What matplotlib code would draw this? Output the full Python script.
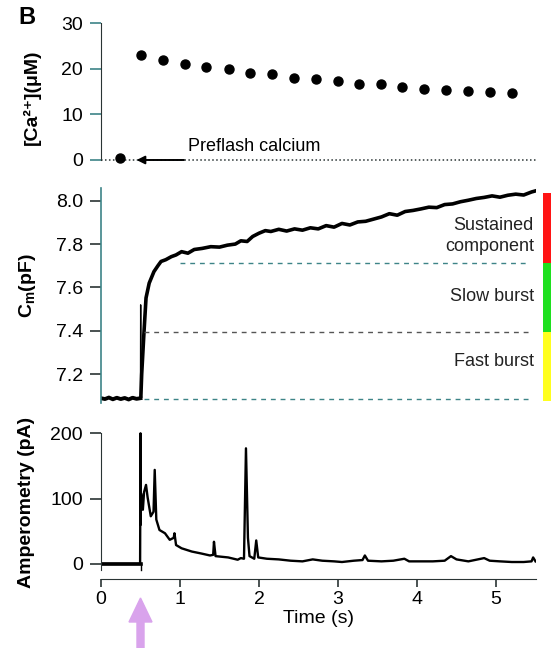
import matplotlib
matplotlib.use("Agg")
import matplotlib.pyplot as plt
from matplotlib.patches import Rectangle, FancyArrow

plt.rcParams['font.family'] = ['Liberation Sans', 'DejaVu Sans']
plt.rcParams['mathtext.fontset'] = 'custom'
plt.rcParams['mathtext.rm'] = 'Liberation Sans'
plt.rcParams['mathtext.bf'] = 'Liberation Sans:bold'

# ---- data ----
# calcium (uM) measured after the flash
ca_pre_t = [0.245]
ca_pre = [0.4]
ca_t = [0.51, 0.78, 1.06, 1.33, 1.62, 1.89, 2.17, 2.44, 2.72, 3.00,
        3.26, 3.54, 3.81, 4.09, 4.37, 4.64, 4.92, 5.20]
ca = [23.1, 21.9, 21.2, 20.4, 20.0, 19.2, 18.8, 18.1, 17.9, 17.4,
      16.8, 16.7, 16.0, 15.6, 15.3, 15.1, 14.9, 14.7]

# membrane capacitance (pF): baseline, flash artefact, then the rise
cm_base_t = [0.00, 0.05, 0.10, 0.15, 0.20, 0.25, 0.30, 0.35, 0.40, 0.45, 0.50]
cm_base = [7.090, 7.086, 7.093, 7.085, 7.092, 7.086, 7.091, 7.084, 7.092, 7.087, 7.090]
cm_spike_t = [0.500, 0.502, 0.505]
cm_spike = [7.090, 7.52, 7.10]
cm_t = [0.505, 0.515, 0.53, 0.545, 0.57, 0.61, 0.67, 0.72, 0.76, 0.82, 0.89,
        0.95, 1.02, 1.10, 1.18, 1.28, 1.39, 1.50, 1.60, 1.70, 1.77, 1.85, 1.92,
        2.00, 2.08, 2.15, 2.25, 2.35, 2.45, 2.55, 2.65, 2.75, 2.85, 2.95,
        3.05, 3.15, 3.25, 3.35, 3.45, 3.55, 3.65, 3.75, 3.85, 3.95, 4.05,
        4.15, 4.25, 4.35, 4.45, 4.55, 4.65, 4.75, 4.85, 4.95, 5.05, 5.15,
        5.25, 5.35, 5.45, 5.50]
cm = [7.10, 7.20, 7.30, 7.40, 7.552, 7.62, 7.673, 7.700, 7.720, 7.728, 7.742,
      7.750, 7.765, 7.758, 7.775, 7.780, 7.788, 7.786, 7.795, 7.800, 7.815, 7.812, 7.835,
      7.850, 7.862, 7.858, 7.868, 7.860, 7.870, 7.864, 7.875, 7.870, 7.885, 7.878,
      7.895, 7.888, 7.902, 7.905, 7.915, 7.925, 7.940, 7.933, 7.950, 7.955, 7.962,
      7.970, 7.968, 7.982, 7.985, 7.995, 8.002, 8.010, 8.015, 8.022, 8.016, 8.025,
      8.030, 8.026, 8.040, 8.045]

# amperometric current (pA)
amp_t = [0.00, 0.495, 0.500, 0.502, 0.507, 0.53, 0.545, 0.57, 0.59, 0.63,
         0.665, 0.68, 0.70, 0.74, 0.81, 0.87, 0.92, 0.93, 0.95, 1.02, 1.15,
         1.27, 1.38, 1.42, 1.43, 1.45, 1.61, 1.73, 1.77, 1.81, 1.835, 1.86,
         1.88, 1.94, 1.965, 1.99, 2.10, 2.25, 2.40, 2.55, 2.68, 2.80, 2.95,
         3.05, 3.20, 3.31, 3.34, 3.38, 3.55, 3.70, 3.84, 3.90, 4.05, 4.20,
         4.35, 4.43, 4.50, 4.65, 4.85, 4.92, 5.05, 5.20, 5.35, 5.45, 5.47, 5.50]
amp = [0, 0, 200, 60, 108, 83, 110, 121, 102, 73,
       80, 144, 68, 52, 47, 37, 40, 47, 29, 24, 19,
       16, 13, 14, 34, 12, 10, 6.5, 9, 8, 177, 40,
       12, 8, 36, 10, 8, 7, 5, 4, 7, 5, 4,
       3, 5, 6, 13, 5, 4, 5, 8, 4, 4, 4,
       5, 12, 7, 4, 9, 5, 4, 3, 3, 4, 10, 4]

cm_levels = [7.087, 7.396, 7.715]
cm_level_start = [0.54, 0.54, 1.0]
phase_lines = ['Fast burst', 'Slow burst', 'Sustained', 'component']
phase_label_y = [7.258, 7.558, 7.885, 7.788]
phase_colors = ['#ffff1e', '#1ee01e', '#ff1414']
phase_bounds = [7.075, 7.396, 7.715, 8.035]

teal = '#3d8487'
dark = '#2a3434'

fig = plt.figure(figsize=(5.51, 6.48), dpi=100)
W, H = 551.0, 648.0

def rect(x0, y_top, y_bot, x1=535.5):
    return [x0 / W, 1 - y_bot / H, (x1 - x0) / W, (y_bot - y_top) / H]

ax1 = fig.add_axes(rect(101, 18.9, 169.1))
ax2 = fig.add_axes(rect(101, 183.3, 404.7))
ax3 = fig.add_axes(rect(101, 423.5, 579))

for ax in (ax1, ax2, ax3):
    ax.set_xlim(0, 5.5)
    ax.patch.set_alpha(0)
    for s in ('top', 'right'):
        ax.spines[s].set_visible(False)

# ---- top: calcium ----
ax1.set_ylim(-2, 31)
ax1.plot([0, 5.5], [0, 0], color=dark, lw=1.1, ls=(0, (1, 1.6)))
ax1.plot(ca_pre_t, ca_pre, 'o', color='black', ms=6.5)
ax1.plot(ca_t, ca, 'o', color='black', ms=6.5)
ax1.annotate('', xy=(0.45, 0), xytext=(1.05, 0),
             arrowprops=dict(arrowstyle='-|>', color='black', lw=1.4,
                             mutation_scale=12, shrinkA=0, shrinkB=0))
ax1.text(1.10, 3.0, 'Preflash calcium', fontsize=13, va='center', ha='left')
ax1.spines['bottom'].set_visible(False)
ax1.spines['left'].set_bounds(0, 30)
ax1.spines['left'].set_color(dark)
ax1.set_xticks([])
ax1.set_yticks([0, 10, 20, 30])
ax1.tick_params(axis='y', length=8, width=1.2, color=teal, labelsize=14, pad=5)

# ---- middle: capacitance ----
ax2.set_ylim(7.06, 8.08)
ax2.plot(cm_base_t, cm_base, color='black', lw=2.8)
ax2.plot(cm_spike_t, cm_spike, color='black', lw=1.0)
ax2.plot(cm_t, cm, color='black', lw=2.6)
for lev, st in zip(cm_levels, cm_level_start):
    ax2.plot([st, 5.43], [lev, lev], color=teal if lev != 7.396 else '#555555',
             lw=1.0, ls=(0, (3.5, 3.5)))
for i in range(3):
    lo, hi = phase_bounds[i], phase_bounds[i + 1]
    ax2.add_patch(Rectangle((5.59, lo), 0.3, hi - lo, color=phase_colors[i],
                            clip_on=False, lw=0))
for name, yy in zip(phase_lines, phase_label_y):
    ax2.text(5.48, yy, name, ha='right', va='center', fontsize=13,
             color='#222222')
ax2.spines['bottom'].set_visible(False)
ax2.spines['left'].set_bounds(7.07, 8.06)
ax2.spines['left'].set_color(teal)
ax2.spines['left'].set_linewidth(1.2)
ax2.set_xticks([])
ax2.set_yticks([7.2, 7.4, 7.6, 7.8, 8.0])
ax2.set_yticklabels(['7.2', '7.4', '7.6', '7.8', '8.0'])
ax2.tick_params(axis='y', length=8, width=1.2, color=dark, labelsize=14, pad=5)

# ---- bottom: amperometry ----
ax3.set_ylim(-23, 215)
ax3.plot([0, 0.5], [0, 0], color='black', lw=2.6)
ax3.plot(amp_t, amp, color='black', lw=1.7)
ax3.plot([0.5, 0.5], [-9, 0], color='black', lw=1.0)
ax3.spines['left'].set_bounds(-9, 200)
ax3.spines['left'].set_color(dark)
ax3.spines['bottom'].set_bounds(0, 5.5)
ax3.spines['bottom'].set_color(dark)
ax3.set_yticks([0, 100, 200])
ax3.set_xticks([0, 1, 2, 3, 4, 5])
ax3.tick_params(axis='y', length=8, width=1.2, color=dark, labelsize=14, pad=5)
ax3.tick_params(axis='x', length=6, width=1.2, color=dark, labelsize=14, pad=3)
ax3.set_xlabel('Time (s)', fontsize=14, labelpad=1)

# ---- labels ----
fig.text(32 / W, 1 - 97 / H, '[Ca²⁺](μM)', rotation=90,
         ha='center', va='center', fontsize=14, fontweight='bold')
fig.text(27 / W, 1 - 286 / H, r'C$_{\mathbf{m}}$(pF)', rotation=90,
         ha='center', va='center', fontsize=14, fontweight='bold')
fig.text(27 / W, 1 - 502 / H, 'Amperometry (pA)', rotation=90,
         ha='center', va='center', fontsize=14, fontweight='bold')
fig.text(27 / W, 1 - 18 / H, 'B', ha='center', va='center', fontsize=17,
         fontweight='bold')

# flash arrow (pointing up at t = 0.5 s)
fig.patches.append(FancyArrow(140.5 / W, 0.0, 0, 50 / H, width=7 / W,
                              head_width=23 / W, head_length=24 / H,
                              length_includes_head=True, color='#d9a3ec',
                              transform=fig.transFigure, figure=fig))

fig.savefig('out.png', dpi=100)
